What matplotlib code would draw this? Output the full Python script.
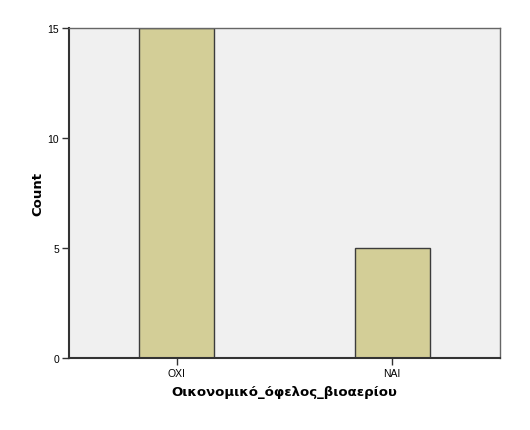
import matplotlib
matplotlib.use("Agg")
import matplotlib.pyplot as plt

categories = ["ΟΧΙ", "ΝΑΙ"]
counts = [15, 5]
y_ticks = [0, 5, 10, 15]

plt.rcParams["font.family"] = ["Liberation Sans", "DejaVu Sans"]

fig = plt.figure(figsize=(5.3, 4.31), dpi=100)
ax = fig.add_axes([69 / 530, 72 / 431, 431 / 530, 330 / 431])
ax.set_facecolor("#F0F0F0")

x = range(len(categories))
ax.bar(x, counts, width=0.347, color="#D3CE97", edgecolor="#3C3C3C", linewidth=1.0, zorder=2)

ax.set_xlim(-0.5, 1.5)
ax.set_ylim(0, 15)
ax.set_xticks(list(x))
ax.set_xticklabels(categories, fontsize=7.5)
ax.set_yticks(y_ticks)
ax.set_yticklabels([str(v) for v in y_ticks], fontsize=7.5)
ax.tick_params(axis="both", length=5, width=1, color="#333333", pad=2)

for side in ["left", "bottom"]:
    ax.spines[side].set_color("#333333")
    ax.spines[side].set_linewidth(1.5)
for side in ["top", "right"]:
    ax.spines[side].set_color("#666666")
    ax.spines[side].set_linewidth(1.0)

ax.set_xlabel("Οικονομικό_όφελος_βιοαερίου", fontsize=9.5, fontweight="bold",
              family="DejaVu Sans", labelpad=5)
ax.set_ylabel("Count", fontsize=9.5, fontweight="bold", family="DejaVu Sans")
ax.yaxis.set_label_coords(-0.058, 0.5)

fig.savefig("out.png", dpi=100, facecolor="white")
